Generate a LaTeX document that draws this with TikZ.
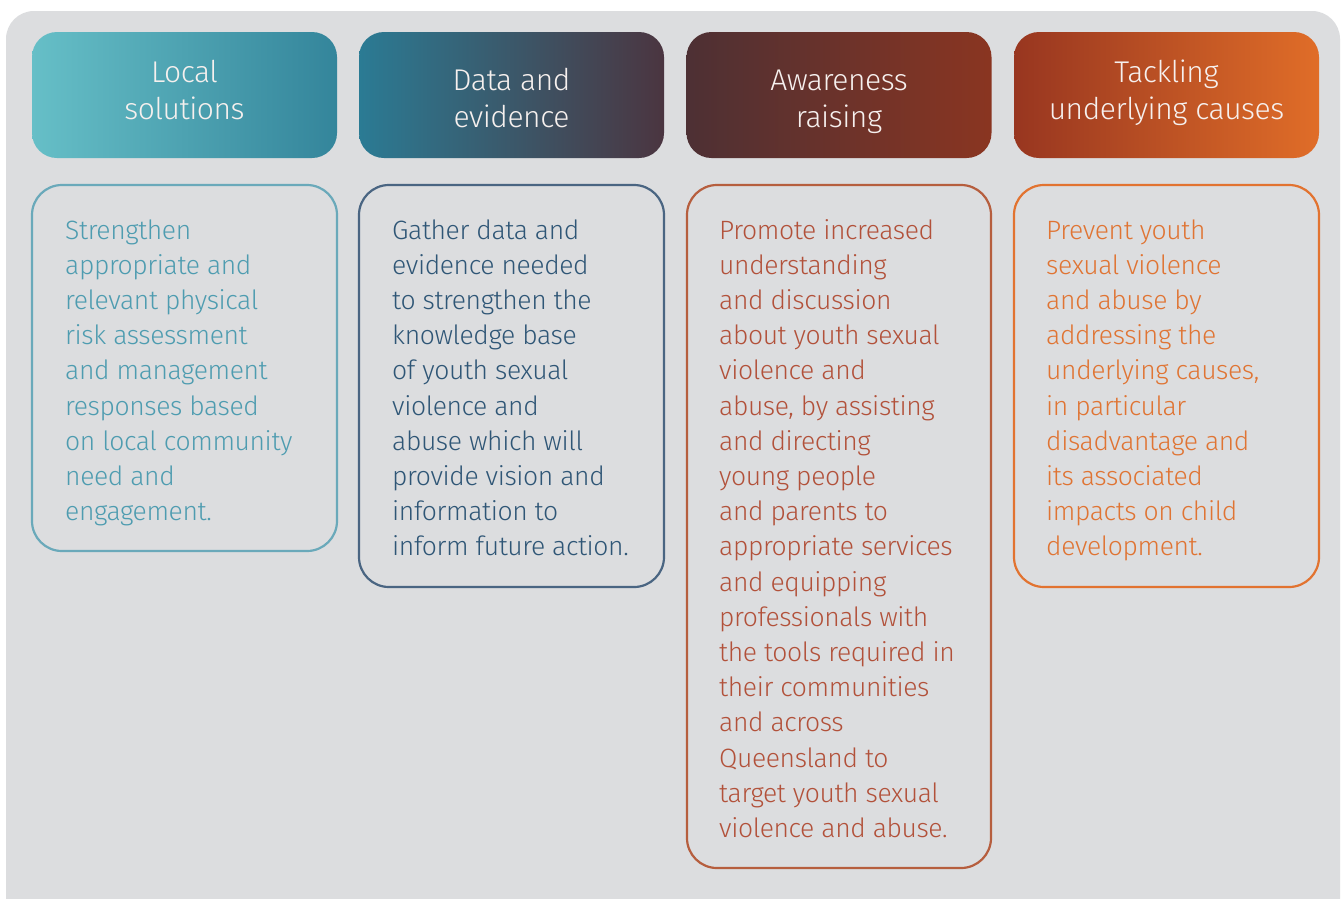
\documentclass[tikz,border=0pt]{standalone}
\usepackage{fontspec}
\setmainfont{Fira Sans}[UprightFont=* Light, LetterSpace=-1.5]
\definecolor{bggray}{HTML}{DCDDDF}
\definecolor{hdtext}{HTML}{F6F0EE}
\definecolor{cA}{HTML}{4E9CB0}
\definecolor{bA}{HTML}{6AA9BA}
\definecolor{cB}{HTML}{2F5676}
\definecolor{bB}{HTML}{4A6582}
\definecolor{cC}{HTML}{B2513A}
\definecolor{bC}{HTML}{B65E3E}
\definecolor{cD}{HTML}{E07433}
\definecolor{bD}{HTML}{E27330}
\definecolor{hAl}{HTML}{66BFC7}
\definecolor{hAm}{HTML}{4BA4B4}
\definecolor{hAr}{HTML}{34859B}
\definecolor{hBl}{HTML}{2B7B94}
\definecolor{hBm}{HTML}{1D4F6E}
\definecolor{hBr}{HTML}{4B3540}
\definecolor{hCl}{HTML}{4D3034}
\definecolor{hCm}{HTML}{5A1D0E}
\definecolor{hCr}{HTML}{8A3521}
\definecolor{hDl}{HTML}{983620}
\definecolor{hDm}{HTML}{BE5025}
\definecolor{hDr}{HTML}{E06D28}
\tikzset{
  hdbox/.style={rounded corners=25pt, minimum width=305pt, minimum height=126pt, inner sep=0pt, draw=none},
  bodybox/.style={rounded corners=30pt, line width=2.2pt, fill=none},
  hdtxt/.style={anchor=base, inner sep=0pt, text=hdtext, font=\fontsize{30}{37.5}\selectfont},
  bodytxt/.style={anchor=base west, inner sep=0pt, font=\fontsize{26.5}{35.2}\selectfont},
}
\newcommand{\bodypar}[1]{\parbox[t]{265pt}{\raggedright #1}}
\newcommand{\hdpar}[1]{\parbox[t]{300pt}{\centering #1}}
\begin{document}
\begin{tikzpicture}[x=1pt,y=-1pt]
\useasboundingbox (0,0) rectangle (1344,898);
\begin{scope}
\clip (0,0) rectangle (1344,898);
\fill[white] (0,0) rectangle (1344,898);
\fill[bggray, rounded corners=28pt] (6,11) rectangle (1340,930);
\end{scope}
% headers
\node[hdbox, left color=hAl, middle color=hAm, right color=hAr] (h1) at (184.5,95) {};
\node[hdbox, left color=hBl, middle color=hBm, right color=hBr] (h2) at (511.5,95) {};
\node[hdbox, left color=hCl, middle color=hCm, right color=hCr] (h3) at (839,95) {};
\node[hdbox, left color=hDl, middle color=hDm, right color=hDr] (h4) at (1166.5,95) {};
\node[hdtxt] (t1) at (184.5,82) {\hdpar{Local\\solutions}};
\node[hdtxt] (t2) at (511.5,90) {\hdpar{Data and\\evidence}};
\node[hdtxt] (t3) at (839,90) {\hdpar{Awareness\\raising}};
\node[hdtxt] (t4) at (1166.5,82) {\hdpar{Tackling\\underlying causes}};
% body boxes
\draw[bodybox, draw=bA] (32,185) rectangle (337,551);
\draw[bodybox, draw=bB] (359,185) rectangle (664,587);
\draw[bodybox, draw=bC] (687,185) rectangle (991,868);
\draw[bodybox, draw=bD] (1014,185) rectangle (1319,587);
\node[bodytxt, text=cA] (p1) at (65,239) {\bodypar{Strengthen\\appropriate and\\relevant physical\\risk assessment\\and management\\responses based\\on local community\\need and\\engagement.}};
\node[bodytxt, text=cB] (p2) at (392,239) {\bodypar{Gather data and\\evidence needed\\to strengthen the\\knowledge base\\of youth sexual\\violence and\\abuse which will\\provide vision and\\information to\\inform future action.}};
\node[bodytxt, text=cC] (p3) at (719,239) {\bodypar{Promote increased\\understanding\\and discussion\\about youth sexual\\violence and\\abuse, by assisting\\and directing\\young people\\and parents to\\appropriate services\\and equipping\\professionals with\\the tools required in\\their communities\\and across\\Queensland to\\target youth sexual\\violence and abuse.}};
\node[bodytxt, text=cD] (p4) at (1046,239) {\bodypar{Prevent youth\\sexual violence\\and abuse by\\addressing the\\underlying causes,\\in particular\\disadvantage and\\its associated\\impacts on child\\development.}};
\end{tikzpicture}
\end{document}
